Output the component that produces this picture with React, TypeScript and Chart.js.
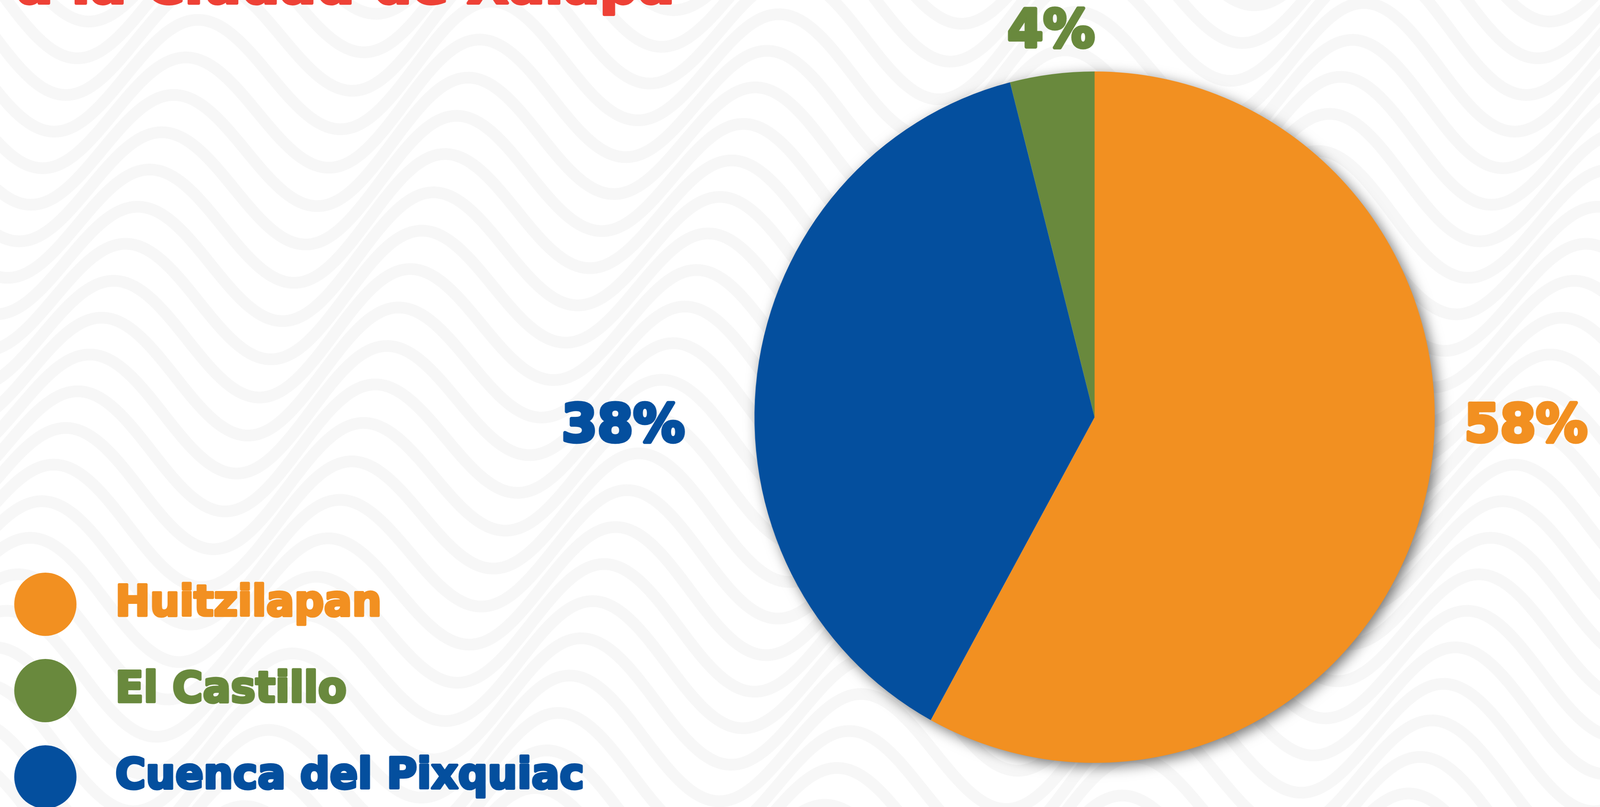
import React, { useEffect, useRef } from 'react';
import { Chart, registerables } from 'chart.js';

Chart.register(...registerables);

// ---- data ----
const sliceLabels = ['Huitzilapan', 'Cuenca del Pixquiac', 'El Castillo'];
const sliceValues = [58, 38, 4];
const percentLabels = ['58%', '38%', '4%'];
const legendOrder = ['Huitzilapan', 'El Castillo', 'Cuenca del Pixquiac'];
const titleLine = 'a la Ciudad de Xalapa';

// ---- styles ----
const W = 4163;
const H = 2066;
const sliceColors = ['#F29021', '#044F9E', '#69893D'];
const TITLE_COLOR = '#EE4136';
const FONT = '"DejaVu Sans", Verdana, sans-serif';
// label anchors in units of pie radius (x of text centre, y of baseline)
const labelAnchors = [
  [1.268, 0.07],
  [-1.386, 0.07],
  [-0.128, -1.071],
];

function heavyText(ctx: CanvasRenderingContext2D, text: string, x: number, y: number, color: string, weight: number) {
  ctx.fillStyle = color;
  ctx.strokeStyle = color;
  ctx.lineWidth = weight;
  ctx.lineJoin = 'round';
  ctx.strokeText(text, x, y);
  ctx.fillText(text, x, y);
}

const backgroundPlugin = {
  id: 'bgWaves',
  beforeDraw(chart: any) {
    const ctx = chart.ctx as CanvasRenderingContext2D;
    ctx.save();
    ctx.fillStyle = '#FFFFFF';
    ctx.fillRect(0, 0, chart.width, chart.height);
    ctx.strokeStyle = '#F7F7F7';
    ctx.lineWidth = 30;
    ctx.lineCap = 'round';
    for (let row = -400; row < chart.height + 400; row += 96) {
      ctx.beginPath();
      for (let x = -20; x <= chart.width + 20; x += 10) {
        const y =
          row +
          150 * Math.sin((2 * Math.PI * x) / 760 + row / 380) +
          25 * Math.sin((2 * Math.PI * x) / 1900);
        if (x === -20) ctx.moveTo(x, y);
        else ctx.lineTo(x, y);
      }
      ctx.stroke();
    }
    ctx.restore();
  },
};

const shadowPlugin = {
  id: 'pieShadow',
  beforeDatasetsDraw(chart: any) {
    const arc = chart.getDatasetMeta(0).data[0];
    if (!arc) return;
    const { x, y, outerRadius } = arc.getProps(['x', 'y', 'outerRadius'], true);
    const ctx = chart.ctx as CanvasRenderingContext2D;
    ctx.save();
    ctx.shadowColor = 'rgba(0,0,0,0.55)';
    ctx.shadowBlur = 35;
    ctx.shadowOffsetX = 10;
    ctx.shadowOffsetY = 10;
    ctx.fillStyle = '#FFFFFF';
    ctx.beginPath();
    ctx.arc(x, y, outerRadius - 1, 0, Math.PI * 2);
    ctx.fill();
    ctx.restore();
  },
};

const labelsPlugin = {
  id: 'pctLabels',
  afterDatasetsDraw(chart: any) {
    const meta = chart.getDatasetMeta(0);
    const ctx = chart.ctx as CanvasRenderingContext2D;
    ctx.save();
    ctx.font = `bold 134px ${FONT}`;
    ctx.textAlign = 'center';
    ctx.textBaseline = 'alphabetic';
    meta.data.forEach((arc: any, i: number) => {
      const { x, y, outerRadius } = arc.getProps(['x', 'y', 'outerRadius'], true);
      const [ax, ay] = labelAnchors[i];
      heavyText(ctx, percentLabels[i], x + ax * outerRadius, y + ay * outerRadius, sliceColors[i], 9);
    });
    ctx.restore();
  },
};

const legendTitlePlugin = {
  id: 'legendTitle',
  afterDraw(chart: any) {
    const ctx = chart.ctx as CanvasRenderingContext2D;
    ctx.save();
    // title (only its lower part is inside the picture)
    ctx.font = `bold 140px ${FONT}`;
    ctx.textAlign = 'left';
    ctx.textBaseline = 'alphabetic';
    heavyText(ctx, titleLine, 43, 8, TITLE_COLOR, 8);

    // legend
    const startY = 1547;
    const stepY = 221;
    ctx.font = `bold 108px ${FONT}`;
    legendOrder.forEach((name, k) => {
      const idx = sliceLabels.indexOf(name);
      const color = sliceColors[idx];
      const cy = startY + k * stepY;
      ctx.fillStyle = color;
      ctx.beginPath();
      ctx.arc(118, cy, 81, 0, Math.PI * 2);
      ctx.fill();
      heavyText(ctx, name, 300, cy + 29, color, 7);
    });
    ctx.restore();
  },
};

export default function App() {
  const canvasRef = useRef<HTMLCanvasElement | null>(null);

  useEffect(() => {
    document.body.style.margin = '0';
    document.body.style.overflow = 'hidden';
    const canvas = canvasRef.current;
    if (!canvas) return;
    const cx = 2848;
    const cy = 1068;
    const r = 885;
    const chart = new Chart(canvas, {
      type: 'pie',
      data: {
        labels: sliceLabels,
        datasets: [
          {
            data: sliceValues,
            backgroundColor: sliceColors,
            borderWidth: 0,
            hoverOffset: 0,
          },
        ],
      },
      options: {
        animation: false,
        responsive: false,
        devicePixelRatio: 1,
        events: [],
        layout: {
          padding: {
            left: cx - r,
            right: W - (cx + r),
            top: cy - r,
            bottom: H - (cy + r),
          },
        },
        plugins: {
          legend: { display: false },
          tooltip: { enabled: false },
          title: { display: false },
        },
      },
      plugins: [backgroundPlugin, shadowPlugin, labelsPlugin, legendTitlePlugin],
    });
    return () => chart.destroy();
  }, []);

  return (
    <div style={{ position: 'fixed', left: 0, top: 0, right: 0, bottom: 0, overflow: 'hidden' }}>
      <canvas
        ref={canvasRef}
        width={W}
        height={H}
        style={{ width: '100vw', height: '100vh', display: 'block' }}
      />
    </div>
  );
}
